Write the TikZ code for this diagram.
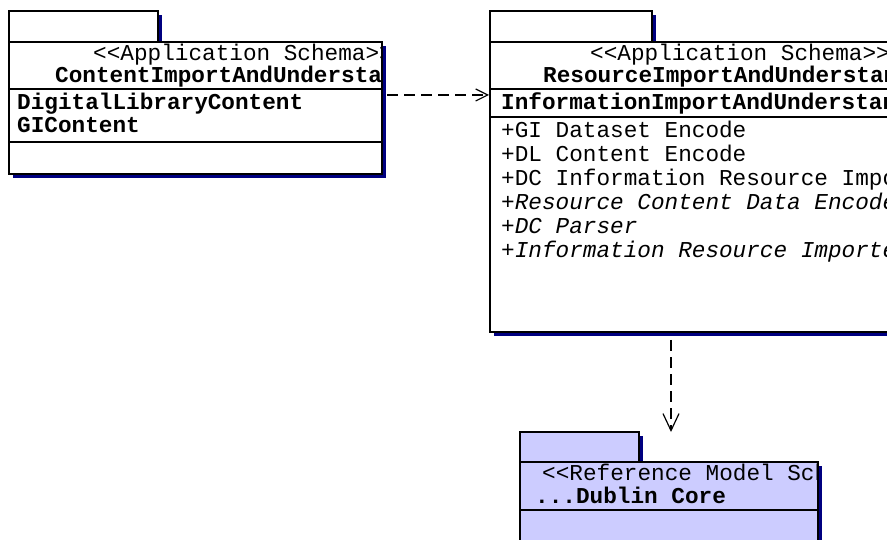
\documentclass[tikz,border=0pt]{standalone}
\usepackage{fontspec}
\usetikzlibrary{arrows.meta,shadows,positioning}
\newfontfamily\umlfont{Liberation Mono}
\definecolor{shadowblue}{HTML}{000080}
\definecolor{refpkg}{HTML}{CCCCFF}

\begin{document}
\begin{tikzpicture}[x=1pt,y=-1pt,
	pkgbox/.style={draw,line width=1.2pt,anchor=north west,inner sep=0pt,outer sep=0pt,
		drop shadow={shadow xshift=4pt,shadow yshift=-4pt,fill=shadowblue,opacity=1}},
	txt/.style={anchor=base west,inner sep=0pt,font=\umlfont\fontsize{22.7}{24}\selectfont},
	sep/.style={line width=1.2pt},
	dep/.style={line width=1.2pt,dash pattern=on 11pt off 6pt}]
	 \useasboundingbox (0,0) rectangle (887,540);
	 \clip (0,0) rectangle (887,540);

	 % left package
	 \node at (9,11) [pkgbox,fill=white,minimum width=149pt,minimum height=31pt] (ltab) {};
	 \node at (9,42) [pkgbox,fill=white,minimum width=373pt,minimum height=132pt] (lbody) {};
	 \draw[sep] (lbody.west |- 0,89) -- (lbody.east |- 0,89);
	 \draw[sep] (lbody.west |- 0,142) -- (lbody.east |- 0,142);
	 \begin{scope}
	 \clip (lbody.north west) rectangle (lbody.south east);
	 \node at (93,61) [txt] (lstereo) {<<Application Schema>>};
	 \node at (55,83) [txt,font=\umlfont\bfseries\fontsize{22.7}{24}\selectfont] (lname) {ContentImportAndUnderstanding};
	 \node at (17,110) [txt,font=\umlfont\bfseries\fontsize{22.7}{24}\selectfont] (lattr1) {DigitalLibraryContent};
	 \node at (17,133) [txt,font=\umlfont\bfseries\fontsize{22.7}{24}\selectfont] (lattr2) {GIContent};
	 \end{scope}

	 % right package
	 \node at (490,11) [pkgbox,fill=white,minimum width=162pt,minimum height=31pt] (rtab) {};
	 \node at (490,42) [pkgbox,fill=white,minimum width=420pt,minimum height=290pt] (rbody) {};
	 \draw[sep] (rbody.west |- 0,89) -- (rbody.east |- 0,89);
	 \draw[sep] (rbody.west |- 0,117) -- (rbody.east |- 0,117);
	 \begin{scope}
	 \clip (rbody.north west) rectangle (rbody.south east);
	 \node at (590,61) [txt] (rstereo) {<<Application Schema>>};
	 \node at (543,83) [txt,font=\umlfont\bfseries\fontsize{22.7}{24}\selectfont] (rname) {ResourceImportAndUnderstanding};
	 \node at (501,110) [txt,font=\umlfont\bfseries\fontsize{22.7}{24}\selectfont] (rattr1) {InformationImportAndUnderstanding};
	 \node at (501,138) [txt] (rop1) {+GI Dataset Encode};
	 \node at (501,162) [txt] (rop2) {+DL Content Encode};
	 \node at (501,186) [txt] (rop3) {+DC Information Resource Import};
	 \node at (501,210) [txt,font=\umlfont\itshape\fontsize{22.7}{24}\selectfont] (rop4) {+Resource Content Data Encoder};
	 \node at (501,234) [txt,font=\umlfont\itshape\fontsize{22.7}{24}\selectfont] (rop5) {+DC Parser};
	 \node at (501,258) [txt,font=\umlfont\itshape\fontsize{22.7}{24}\selectfont] (rop6) {+Information Resource Importer};
	 \end{scope}

	 % bottom package
	 \node at (520,432) [pkgbox,fill=refpkg,minimum width=119pt,minimum height=30pt] (btab) {};
	 \node at (520,462) [pkgbox,fill=refpkg,minimum width=298pt,minimum height=100pt] (bbody) {};
	 \draw[sep] (bbody.west |- 0,510) -- (bbody.east |- 0,510);
	 \begin{scope}
	 \clip (bbody.north west) rectangle (bbody.south east);
	 \node at (542,480) [txt] (bstereo) {<<Reference Model Schema>>};
	 \node at (535,503) [txt,font=\umlfont\bfseries\fontsize{22.7}{24}\selectfont] (bname) {...Dublin Core};
	 \end{scope}

	 \draw[dep,-{Straight Barb[length=12pt,width=12pt]},shorten <=5pt,shorten >=1pt] (lbody.east |- 0,95) -- (rbody.west |- 0,95);
	 \draw[dep,-{Straight Barb[length=17pt,width=16pt]},shorten <=8pt] (rbody.south -| 671,0) -- (btab.north -| 671,0);

\end{tikzpicture}
\end{document}
